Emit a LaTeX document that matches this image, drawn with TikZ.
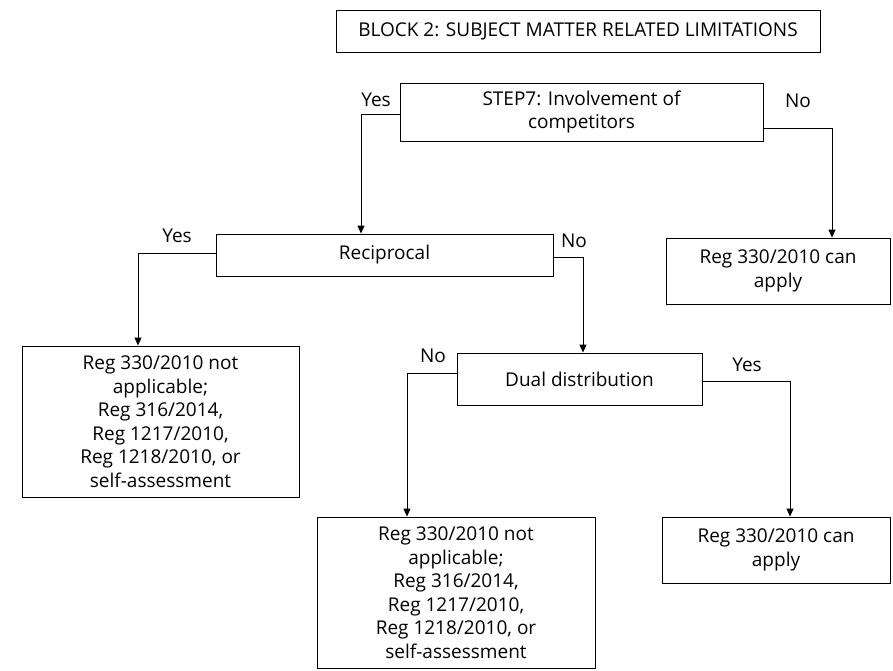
\documentclass[tikz,border=0pt]{standalone}
\usepackage{fontspec}
\setmainfont{Open Sans}
\usetikzlibrary{arrows.meta}
\begin{document}
\begin{tikzpicture}[x=1pt,y=-1pt,
  box/.style={draw, line width=0.9pt, inner sep=0pt, align=center, font=\fontsize{19}{23.5}\selectfont},
  lbl/.style={inner sep=0pt, font=\fontsize{19}{22}\selectfont},
  conn/.style={line width=0.9pt},
  arr/.style={conn, -{Triangle[width=7pt,length=8pt]}}]
\useasboundingbox (0,0) rectangle (893,671);
\fill[white] (0,0) rectangle (893,671);

\node[box, minimum width=484pt, minimum height=42pt] (title) at (578,31) {BLOCK 2: SUBJECT MATTER RELATED LIMITATIONS};
\node[box, minimum width=363pt, minimum height=58pt] (step) at (581.5,112) {STEP7: Involvement of\\competitors};
\node[box, minimum width=337pt, minimum height=42pt] (recip) at (384.5,255) {Reciprocal};
\node[box, minimum width=224pt, minimum height=66pt] (canA) at (778,271) {Reg 330/2010 can\\apply};
\node[box, minimum width=277pt, minimum height=151pt] (naL) at (160.5,421.5) {Reg 330/2010 not\\applicable;\\Reg 316/2014,\\Reg 1217/2010,\\Reg 1218/2010, or\\self-assessment};
\node[box, minimum width=245pt, minimum height=52pt] (dual) at (579.5,379) {Dual distribution};
\node[box, minimum width=278pt, minimum height=151pt] (naB) at (456,592.5) {Reg 330/2010 not\\applicable;\\Reg 316/2014,\\Reg 1217/2010,\\Reg 1218/2010, or\\self-assessment};
\node[box, minimum width=228pt, minimum height=66pt] (canB) at (776,550) {Reg 330/2010 can\\apply};

\node[lbl] (y1) at (376,100) {Yes};
\node[lbl] (n1) at (798,101) {No};
\node[lbl] (y2) at (177,236) {Yes};
\node[lbl] (n2) at (574,241) {No};
\node[lbl] (n3) at (433,356) {No};
\node[lbl] (y3) at (747,365) {Yes};

\draw[arr] (step.west |- 0,114) -| (361,0 |- recip.north);
\draw[arr] (step.east |- 0,128) -| (832,0 |- canA.north);
\draw[arr] (recip.west |- 0,253) -| (138,0 |- naL.north);
\draw[arr] (recip.east |- 0,257) -| (583,0 |- dual.north);
\draw[arr] (dual.west |- 0,373) -| (407,0 |- naB.north);
\draw[arr] (dual.east |- 0,381) -| (790,0 |- canB.north);
\end{tikzpicture}
\end{document}
